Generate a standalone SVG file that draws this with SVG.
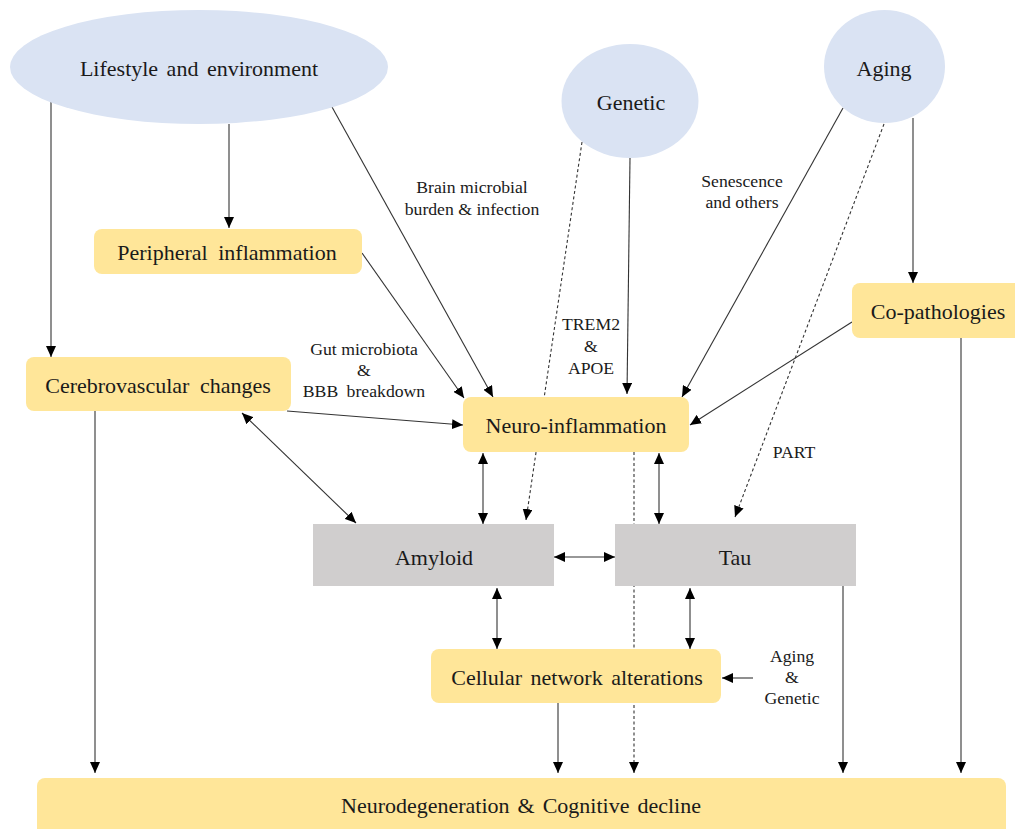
<svg xmlns="http://www.w3.org/2000/svg" width="1015" height="829" viewBox="0 0 1015 829">
<style>
.ell{fill:#dae3f3}
.yel{fill:#ffe699}
.gry{fill:#d0cece}
.t{font-family:"Liberation Serif","Times New Roman",serif;font-size:22px;fill:#1a1a1a;text-anchor:middle;dominant-baseline:central}
.l{font-family:"Liberation Serif","Times New Roman",serif;font-size:17.7px;fill:#1a1a1a;text-anchor:middle;dominant-baseline:central}
.c{stroke:#333;stroke-width:1.1;fill:none;marker-end:url(#ah)}
.d{stroke-dasharray:3,2.5}
.b{marker-start:url(#ah)}
</style>
<defs>
<marker id="ah" markerUnits="userSpaceOnUse" markerWidth="12" markerHeight="10" refX="11" refY="5" orient="auto-start-reverse">
<path d="M0,0 L11,5 L0,10 Z" fill="#000"/>
</marker>
</defs>
<rect width="1015" height="829" fill="#fff"/>
<g id="connectors">
<line class="c" x1="51" y1="101" x2="51" y2="357"/>
<line class="c" x1="229" y1="124" x2="229" y2="228"/>
<line class="c" x1="332" y1="107" x2="493" y2="397"/>
<line class="c" x1="362" y1="253" x2="464" y2="398"/>
<line class="c" x1="287" y1="411" x2="463" y2="425"/>
<line class="c b" x1="242" y1="413" x2="356" y2="523"/>
<line class="c d" x1="582" y1="142" x2="526" y2="520"/>
<line class="c" x1="630" y1="158" x2="627" y2="394"/>
<line class="c" x1="843" y1="108" x2="682" y2="397"/>
<line class="c d" x1="884" y1="124" x2="735" y2="517"/>
<line class="c" x1="913" y1="118" x2="913" y2="283"/>
<line class="c" x1="852" y1="322" x2="690" y2="425"/>
<line class="c b" x1="483" y1="453" x2="483" y2="524"/>
<line class="c b" x1="659" y1="453" x2="659" y2="524"/>
<line class="c b" x1="554" y1="557" x2="615" y2="557"/>
<line class="c b" x1="497" y1="588" x2="497" y2="649"/>
<line class="c b" x1="690" y1="588" x2="690" y2="649"/>
<line class="c" x1="753" y1="678" x2="722" y2="678"/>
<line class="c d" x1="634" y1="452" x2="634" y2="773"/>
<line class="c" x1="95" y1="411" x2="95" y2="773"/>
<line class="c" x1="558" y1="703" x2="558" y2="773"/>
<line class="c" x1="843" y1="586" x2="843" y2="773"/>
<line class="c" x1="961" y1="338" x2="961" y2="773"/>
</g>
<g id="n-lifestyle"><ellipse class="ell" cx="199" cy="67" rx="189" ry="57"/><text class="t" x="199" y="68" word-spacing="3">Lifestyle and environment</text></g>
<g id="n-genetic"><ellipse class="ell" cx="630" cy="101" rx="68.5" ry="57"/><text class="t" x="631" y="102">Genetic</text></g>
<g id="n-aging"><ellipse class="ell" cx="884.5" cy="66.5" rx="60.5" ry="56.5"/><text class="t" x="884" y="68">Aging</text></g>
<g id="n-peripheral"><rect class="yel" x="94" y="229" width="268" height="45" rx="8"/><text class="t" x="227" y="252" word-spacing="5">Peripheral inflammation</text></g>
<g id="n-cerebro"><rect class="yel" x="26" y="357" width="265" height="54" rx="8"/><text class="t" x="158" y="385" word-spacing="5">Cerebrovascular changes</text></g>
<g id="n-neuro"><rect class="yel" x="463" y="397" width="226" height="55" rx="8"/><text class="t" x="576" y="425">Neuro-inflammation</text></g>
<g id="n-copath"><rect class="yel" x="852" y="283" width="180" height="55" rx="8"/><text class="t" x="938" y="311">Co-pathologies</text></g>
<g id="n-amyloid"><rect class="gry" x="313" y="524" width="241" height="62"/><text class="t" x="434" y="557">Amyloid</text></g>
<g id="n-tau"><rect class="gry" x="615" y="524" width="241" height="62"/><text class="t" x="735" y="557">Tau</text></g>
<g id="n-cellular"><rect class="yel" x="431" y="649" width="290" height="54" rx="8"/><text class="t" x="577" y="677" word-spacing="3">Cellular network alterations</text></g>
<g id="n-neurodeg"><rect class="yel" x="37" y="778" width="969" height="62" rx="8"/><text class="t" x="521" y="805" word-spacing="2.5">Neurodegeneration &amp; Cognitive decline</text></g>
<g id="labels">
<text class="l" x="472" y="187">Brain microbial</text>
<text class="l" x="472" y="209">burden &amp; infection</text>
<text class="l" x="364" y="349">Gut microbiota</text>
<text class="l" x="364" y="370">&amp;</text>
<text class="l" x="364" y="391" word-spacing="4">BBB breakdown</text>
<text class="l" x="591" y="324">TREM2</text>
<text class="l" x="591" y="346">&amp;</text>
<text class="l" x="591" y="368">APOE</text>
<text class="l" x="742" y="181">Senescence</text>
<text class="l" x="742" y="202">and others</text>
<text class="l" x="794" y="452">PART</text>
<text class="l" x="792" y="656" font-size="17">Aging</text>
<text class="l" x="792" y="677" font-size="17">&amp;</text>
<text class="l" x="792" y="698" font-size="17">Genetic</text>
</g>
</svg>
